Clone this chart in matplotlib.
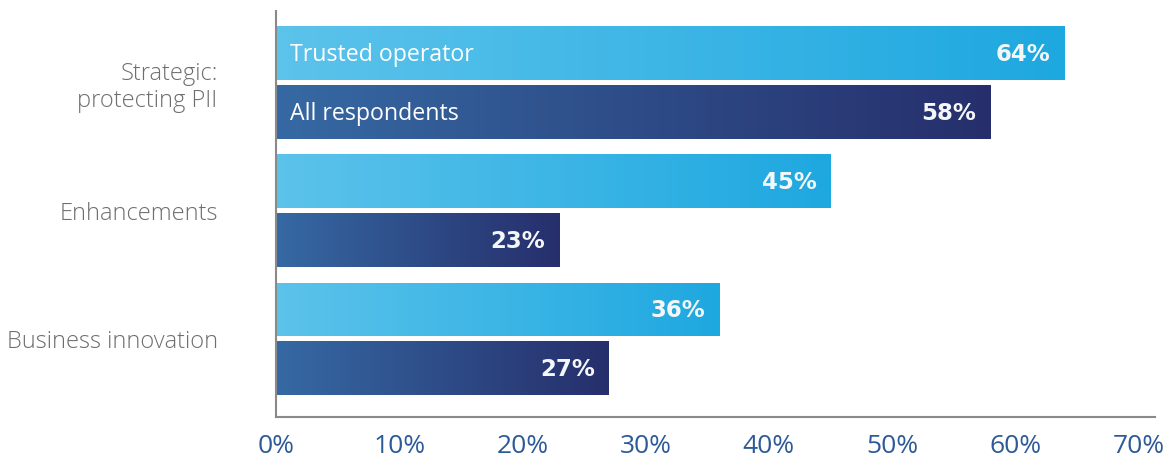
import numpy as np
import matplotlib
matplotlib.use("Agg")
import matplotlib.pyplot as plt
from matplotlib.colors import LinearSegmentedColormap
from matplotlib.transforms import offset_copy

categories = ["Strategic:\nprotecting PII", "Enhancements", "Business innovation"]
series_names = ["Trusted operator", "All respondents"]
trusted = [64, 45, 36]
all_resp = [58, 23, 27]
xticks = [0, 10, 20, 30, 40, 50, 60, 70]
xtick_labels = ["0%", "10%", "20%", "30%", "40%", "50%", "60%", "70%"]

plt.rcParams['font.family'] = ['Open Sans', 'DejaVu Sans']

fig = plt.figure(figsize=(11.65, 4.62), dpi=100)
ax = fig.add_axes([276/1165, 45/462, 879/1165, 406/462])

light_cmap = LinearSegmentedColormap.from_list("light", ["#5cc3eb", "#1ea8e0"])
dark_cmap = LinearSegmentedColormap.from_list("dark", ["#3669a3", "#262f6c"])

y = np.arange(len(categories))
off = 0.23
h = 0.42

grad = np.linspace(0, 1, 256).reshape(1, -1)

def grad_bars(vals, ypos, cmap):
    bars = ax.barh(ypos, vals, height=h, color="none", edgecolor="none")
    for b in bars:
        x0, y0 = b.get_x(), b.get_y()
        w, hh = b.get_width(), b.get_height()
        im = ax.imshow(grad, cmap=cmap, aspect="auto",
                       extent=[x0, x0 + w, y0 + hh, y0], zorder=2,
                       interpolation="bilinear")
        im.set_clip_path(b)
    return bars

grad_bars(trusted, y - off, light_cmap)
grad_bars(all_resp, y + off, dark_cmap)

for i in range(len(categories)):
    for v, yy in ((trusted[i], y[i] - off), (all_resp[i], y[i] + off)):
        tr = offset_copy(ax.transData, fig=fig, x=-14, y=-1, units="dots")
        ax.text(v, yy, f"{v}%", transform=tr, ha="right", va="center",
                color="#f4f6f8", fontsize=16.5, fontweight="bold",
                family=["DejaVu Sans"], zorder=3)

tr2 = offset_copy(ax.transData, fig=fig, x=14, y=-2, units="dots")
ax.text(0, y[0] - off, series_names[0], transform=tr2, ha="left", va="center",
        color="white", fontsize=16.7, zorder=3)
ax.text(0, y[0] + off, series_names[1], transform=tr2, ha="left", va="center",
        color="white", fontsize=16.7, zorder=3)

ax.set_xlim(0, 879/12.32)
ax.set_ylim(2 + 78/128, -71.5/128)

ax.set_yticks(y)
ax.set_yticklabels(categories, fontsize=17, color="#6e6e6e", fontweight="light",
                   linespacing=1.2)
ax.set_xticks(xticks)
ax.set_xticklabels(xtick_labels, fontsize=19, color="#2c5a98")
ax.tick_params(axis="y", length=0, pad=42)
ax.tick_params(axis="x", length=0, pad=12)

for s in ["top", "right"]:
    ax.spines[s].set_visible(False)
for s in ["left", "bottom"]:
    ax.spines[s].set_color("#8a8a8a")
    ax.spines[s].set_linewidth(1.5)

fig.savefig("out.png", dpi=100)
